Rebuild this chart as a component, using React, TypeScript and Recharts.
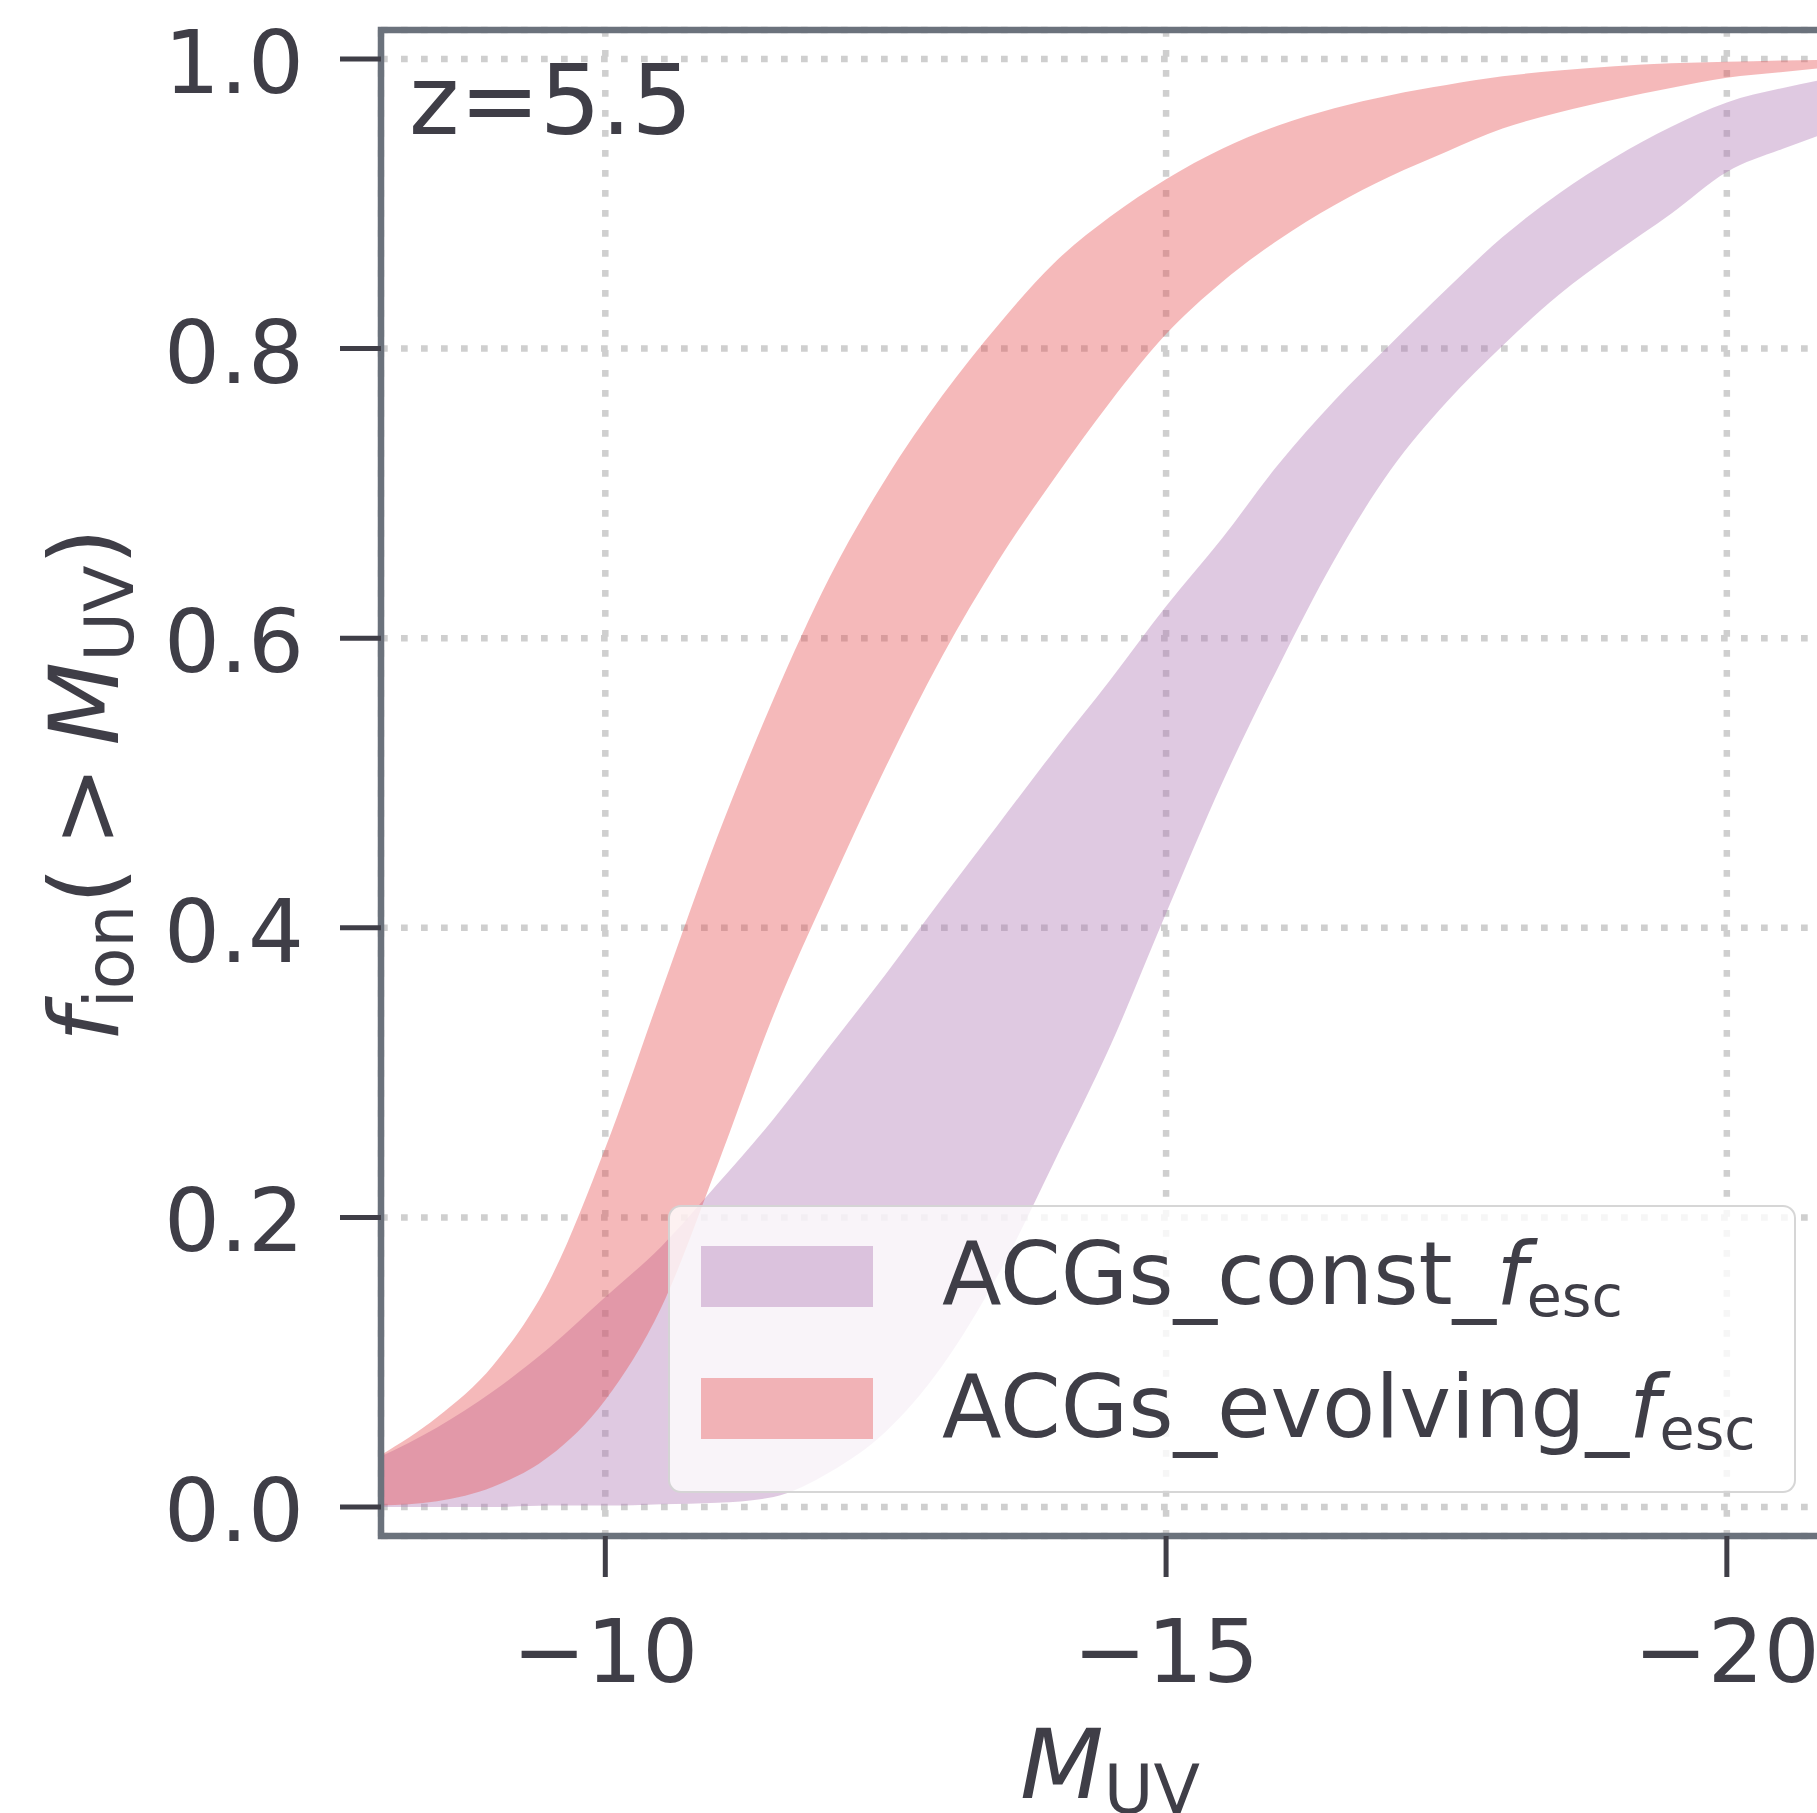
import React from "react";
import {
  AreaChart,
  Area,
  XAxis,
  YAxis,
  CartesianGrid,
  ReferenceArea,
  Legend,
  Label,
} from "recharts";

// M_UV sample points
const muv = [
  -8, -8.5, -9, -9.5, -10, -10.5, -11, -11.5, -12, -12.5, -13, -13.5, -14,
  -14.5, -15, -15.5, -16, -16.5, -17, -17.5, -18, -18.5, -19, -19.5, -20,
  -20.5, -21,
];

// ACGs_const_fesc band
const constLow = [
  0.0, 0.0, 0.0, 0.001, 0.001, 0.002, 0.003, 0.007, 0.024, 0.052, 0.097,
  0.16, 0.238, 0.318, 0.41, 0.5, 0.58, 0.654, 0.716, 0.763, 0.802, 0.837,
  0.866, 0.893, 0.922, 0.938, 0.952,
];
const constHigh = [
  0.035, 0.055, 0.08, 0.11, 0.145, 0.18, 0.223, 0.268, 0.318, 0.368, 0.42,
  0.471, 0.522, 0.571, 0.622, 0.669, 0.72, 0.764, 0.803, 0.841, 0.877, 0.907,
  0.932, 0.953, 0.97, 0.98, 0.988,
];

// ACGs_evolving_fesc band
const evolLow = [
  0.001, 0.004, 0.014, 0.035, 0.074, 0.138, 0.236, 0.34, 0.428, 0.511, 0.587,
  0.653, 0.71, 0.763, 0.81, 0.846, 0.875, 0.899, 0.919, 0.936, 0.952, 0.963,
  0.972, 0.98, 0.987, 0.991, 0.995,
];
const evolHigh = [
  0.036, 0.062, 0.098, 0.156, 0.248, 0.356, 0.463, 0.558, 0.642, 0.71, 0.767,
  0.816, 0.859, 0.891, 0.917, 0.938, 0.954, 0.966, 0.975, 0.982, 0.988, 0.992,
  0.995, 0.997, 0.998, 0.999, 0.9995,
];

const yTicks = [0, 0.2, 0.4, 0.6, 0.8, 1.0];
const xTicks = [-10, -15, -20];
const redshiftLabel = "z=5.5";

const series = [
  { key: "constBand", prefix: "ACGs_const_", color: "#af78b4" },
  { key: "evolBand", prefix: "ACGs_evolving_", color: "#e74f52" },
];

const data = muv.map((m, i) => ({
  m,
  constBand: [constLow[i], constHigh[i]],
  evolBand: [evolLow[i], evolHigh[i]],
}));

const INK = "#3f3e47";
const FRAME = "#6b727c";
const FONT = "DejaVu Sans";

const YTick = (props: any) => {
  const { x, y, payload } = props;
  return (
    <text x={x} y={y} dy={34} textAnchor="end" fontSize={88} fill={INK} fontFamily={FONT}>
      {payload.value.toFixed(1)}
    </text>
  );
};

const XTick = (props: any) => {
  const { x, y, payload } = props;
  return (
    <text x={x} y={y} dy={105} textAnchor="middle" fontSize={88} fill={INK} fontFamily={FONT}>
      {"\u2212" + Math.abs(payload.value)}
    </text>
  );
};

const XTitle = (props: any) => {
  const { x, y, width } = props.viewBox;
  return (
    <text x={x + width / 2} y={y + 262} textAnchor="middle" fontSize={97} fill={INK} fontFamily={FONT}>
      <tspan fontStyle="italic">M</tspan>
      <tspan fontSize={68} dy={15}>UV</tspan>
    </text>
  );
};

const YTitle = (props: any) => {
  const { y, height } = props.viewBox;
  const cx = 118;
  const cy = y + height / 2 + 2;
  return (
    <text
      x={cx}
      y={cy}
      transform={`rotate(-90, ${cx}, ${cy})`}
      textAnchor="middle"
      fontSize={97}
      fill={INK}
      fontFamily={FONT}
    >
      <tspan fontStyle="italic">f</tspan>
      <tspan fontSize={68} dy={15}>ion</tspan>
      <tspan dy={-15}>(</tspan>
      <tspan dx={20}>&gt;</tspan>
      <tspan dx={20} fontStyle="italic">M</tspan>
      <tspan fontSize={68} dy={15}>UV</tspan>
      <tspan dy={-15}>)</tspan>
    </text>
  );
};

const ZLabel = (props: any) => {
  const { x, y } = props.viewBox;
  return (
    <text x={x + 28} y={y + 104} fontSize={96} fill={INK} fontFamily={FONT}>
      {redshiftLabel}
    </text>
  );
};

const renderLegend = () => (
  <div
    style={{
      width: 1128,
      height: 288,
      boxSizing: "border-box",
      background: "rgba(255,255,255,0.8)",
      border: "2px solid rgba(204,204,204,0.8)",
      borderRadius: 13,
    }}
  >
    <svg width={1124} height={284} style={{ display: "block" }}>
      {series.map((s, i) => (
        <g key={s.key}>
          <rect x={31} y={39 + i * 132} width={172} height={61} fill={s.color} fillOpacity={0.4} />
          <text x={272} y={97 + i * 133} fontSize={87} fill={INK} fontFamily={FONT}>
            {s.prefix}
            <tspan fontStyle="italic">f</tspan>
            <tspan fontSize={57} dy={12}>esc</tspan>
          </text>
        </g>
      ))}
    </svg>
  </div>
);

const App = () => {
  return (
    <div
      style={{
        position: "absolute",
        left: 0,
        top: 0,
        width: 1817,
        height: 1813,
        overflow: "hidden",
        background: "#fff",
      }}
    >
      <AreaChart
        width={1900}
        height={1813}
        data={data}
        margin={{ top: 30, right: 61, bottom: 0, left: 0 }}
      >
        <CartesianGrid stroke="#cfcfcf" strokeWidth={6.5} strokeDasharray="6.7 13.3" />
        <XAxis
          dataKey="m"
          type="number"
          domain={[-21, -8]}
          reversed
          ticks={xTicks}
          height={277}
          tickSize={41}
          tickMargin={0}
          tick={XTick}
          tickLine={{ stroke: INK, strokeWidth: 5 }}
          axisLine={false}
        >
          <Label content={XTitle} />
        </XAxis>
        <YAxis
          type="number"
          domain={[-0.02, 1.02]}
          ticks={yTicks}
          width={381}
          tickSize={41}
          tickMargin={36}
          tick={YTick}
          tickLine={{ stroke: INK, strokeWidth: 5 }}
          axisLine={false}
        >
          <Label content={YTitle} />
        </YAxis>
        {series.map((s) => (
          <Area
            key={s.key}
            dataKey={s.key}
            type="monotone"
            fill={s.color}
            fillOpacity={0.4}
            stroke="none"
            activeDot={false}
            isAnimationActive={false}
          />
        ))}
        <ReferenceArea
          x1={-8}
          x2={-21}
          y1={-0.02}
          y2={1.02}
          fill="none"
          stroke={FRAME}
          strokeWidth={6.5}
          ifOverflow="visible"
        >
          <Label content={ZLabel} />
        </ReferenceArea>
        <Legend
          layout="vertical"
          align="center"
          verticalAlign="middle"
          wrapperStyle={{ left: 668, top: 1205, width: 1128, height: 288 }}
          content={renderLegend}
        />
      </AreaChart>
    </div>
  );
};

export default App;
